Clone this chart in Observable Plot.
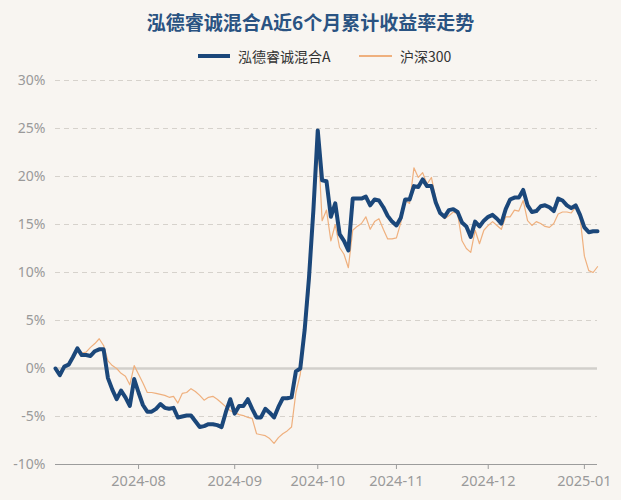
<!DOCTYPE html>
<html>
<head>
<meta charset="utf-8">
<script src="https://cdn.jsdelivr.net/npm/d3@7"></script>
<script src="https://cdn.jsdelivr.net/npm/@observablehq/plot@0.6"></script>
<style>
  html, body { margin: 0; padding: 0; }
  body {
    width: 621px; height: 500px; overflow: hidden; position: relative;
    background: #f8f5f1;
    font-family: "Noto Sans CJK SC", "Noto Sans", sans-serif;
  }
  #title {
    position: absolute; top: 8px; left: 0; width: 621px; text-align: center;
    font-size: 19px; font-weight: bold; color: #2a5382; line-height: 28px;
  }
  #legend {
    position: absolute; top: 45px; left: 0; width: 621px; height: 22px;
    font-size: 14px; color: #333; line-height: 22px;
  }
  .item { position: absolute; top: 0; display: flex; align-items: center; height: 22px; }
  .sw { display: inline-block; margin-right: 8px; }
  #chart { position: absolute; top: 65px; left: 0; }
</style>
</head>
<body>
<div id="title"></div>
<div id="legend"></div>
<div id="chart"></div>
<script>
// ---- data ----
const titleText = "泓德睿诚混合A近6个月累计收益率走势";
const seriesNames = ["泓德睿诚混合A", "沪深300"];
const seriesColors = ["#1b477a", "#efb07e"];

// months on the axis and the number of trading days shown in each
const monthLabels = ["2024-07", "2024-08", "2024-09", "2024-10", "2024-11", "2024-12", "2025-01"];
const monthTradingDays = [19, 22, 19, 18, 21, 22, 4];

// cumulative return (%) per trading day
const fundValues = [
  0.0, -0.7, 0.2, 0.4, 1.2, 2.1, 1.4, 1.4, 1.3, 1.8,
  2.0, 2.0, -1.0, -2.2, -3.2, -2.3, -3.0, -3.9, -1.1, -2.5,
  -3.8, -4.5, -4.5, -4.2, -3.7, -4.1, -4.2, -4.1, -5.1, -5.0,
  -4.9, -4.9, -5.5, -6.1, -6.0, -5.8, -5.8, -5.9, -6.1, -4.5,
  -3.2, -4.7, -3.9, -3.9, -3.2, -4.2, -5.1, -5.1, -4.2, -4.6,
  -5.1, -4.0, -3.1, -3.1, -3.0, -0.3, 0.0, 4.0, 9.5, 16.5,
  24.8, 19.6, 19.5, 15.8, 17.2, 14.0, 13.3, 12.3, 17.7, 17.7,
  17.7, 17.9, 17.0, 17.6, 17.5, 16.8, 15.9, 15.3, 14.9, 15.7,
  17.6, 17.6, 19.0, 18.9, 19.7, 19.0, 19.0, 17.3, 16.2, 15.8,
  16.5, 16.6, 16.3, 15.2, 14.8, 13.7, 15.3, 14.8, 15.4, 15.8,
  16.0, 15.6, 15.1, 16.6, 17.6, 17.8, 17.8, 18.6, 17.0, 16.3,
  16.4, 16.9, 17.0, 16.8, 16.4, 17.7, 17.5, 17.0, 16.7, 17.0,
  16.0, 14.7, 14.2, 14.3, 14.3
];
const indexValues = [
  0.0, -0.6, 0.3, 0.5, 1.2, 1.9, 1.6, 1.7, 2.2, 2.6,
  3.1, 2.4, 0.8, 0.3, 0.0, -0.5, -0.8, -1.7, 0.3, -0.6,
  -1.5, -2.5, -2.5, -2.6, -2.7, -2.8, -3.0, -2.9, -3.6, -2.6,
  -2.5, -2.1, -2.4, -2.8, -3.3, -3.0, -2.9, -3.2, -3.6, -4.0,
  -4.4, -4.6, -4.8, -4.9, -5.1, -5.2, -6.8, -6.9, -7.0, -7.3,
  -7.8, -7.2, -6.8, -6.5, -6.1, -2.5, -0.6, 3.5, 8.0, 16.0,
  24.1, 15.4, 16.5, 13.3, 15.0, 12.6, 11.9, 10.5, 14.4, 14.8,
  15.1, 15.8, 14.5, 15.3, 15.6, 14.5, 13.5, 13.5, 13.6, 15.2,
  17.5, 17.2, 20.9, 19.9, 20.4, 19.2, 19.9, 17.7, 16.2, 15.6,
  15.9, 16.3, 16.1, 13.3, 12.5, 12.1, 14.4, 13.0, 14.4, 14.9,
  15.3, 14.9, 14.5, 15.8, 15.8, 16.5, 16.4, 17.5, 15.4, 14.9,
  15.3, 15.1, 14.8, 14.7, 15.1, 16.1, 16.3, 16.3, 16.2, 16.8,
  15.8, 11.7, 10.2, 10.0, 10.6
];

const yTicks = [-10, -5, 0, 5, 10, 15, 20, 25, 30];

// ---- derived tables ----
const monthStart = [];
{ let acc = 0; for (const n of monthTradingDays) { monthStart.push(acc); acc += n; } }
const xTicks = monthStart.slice(1);
const xTickLabel = new Map(monthStart.map((s, k) => [s, monthLabels[k]]));

const rows = [];
fundValues.forEach((v, i) => rows.push({i, v, s: seriesNames[0]}));
indexValues.forEach((v, i) => rows.push({i, v, s: seriesNames[1]}));

// ---- header ----
document.getElementById("title").textContent = titleText;
const legend = document.getElementById("legend");
const legendLayout = [{left: 198, w: 32, h: 4}, {left: 359, w: 33, h: 1.5}];
seriesNames.forEach((name, k) => {
  const it = document.createElement("div");
  it.className = "item";
  it.style.left = legendLayout[k].left + "px";
  const sw = document.createElement("span");
  sw.className = "sw";
  sw.style.width = legendLayout[k].w + "px";
  sw.style.height = legendLayout[k].h + "px";
  sw.style.background = seriesColors[k];
  it.appendChild(sw);
  it.appendChild(document.createTextNode(name));
  legend.appendChild(it);
});

// ---- chart ----
const chart = Plot.plot({
  width: 621,
  height: 435,
  marginTop: 15,
  marginBottom: 36,
  marginLeft: 55,
  marginRight: 24,
  style: {background: "transparent", fontFamily: "'Noto Sans', 'Open Sans', sans-serif", fontSize: "14px"},
  x: {type: "linear", domain: [0, fundValues.length - 1]},
  y: {domain: [-10, 30]},
  color: {domain: seriesNames, range: seriesColors},
  marks: [
    Plot.ruleY(yTicks.filter(d => d !== 0 && d !== -10), {stroke: "#d6d2cc", strokeWidth: 1, strokeDasharray: "5,4"}),
    Plot.ruleY([0], {stroke: "#d2cfcb", strokeWidth: 2.5}),
    Plot.ruleY([-10], {stroke: "#9c9c9c", strokeWidth: 1}),
    Plot.axisY({ticks: yTicks, tickSize: 0, tickPadding: 10, tickFormat: d => d + "%", fill: "#9a9a9a", fontSize: 14, label: null}),
    Plot.axisX({ticks: xTicks, tickSize: 5, tickPadding: 6, tickFormat: d => xTickLabel.get(d), stroke: "#9c9c9c", fill: "#9a9a9a", fontSize: 14.5, label: null}),
    Plot.line(rows.filter(d => d.s === seriesNames[1]), {x: "i", y: "v", stroke: "s", strokeWidth: 1.2}),
    Plot.line(rows.filter(d => d.s === seriesNames[0]), {x: "i", y: "v", stroke: "s", strokeWidth: 4, strokeLinejoin: "round"})
  ]
});
document.getElementById("chart").appendChild(chart);
</script>
</body>
</html>
